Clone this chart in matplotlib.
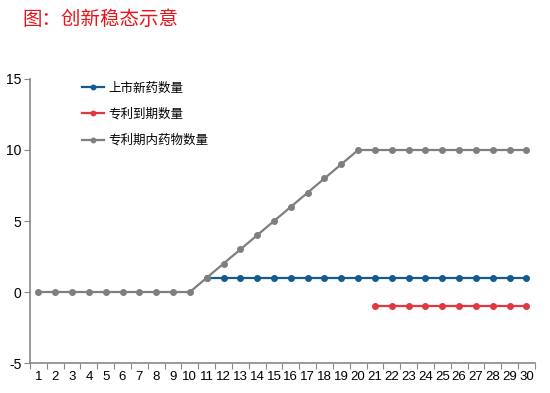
import matplotlib

matplotlib.use("Agg")

import matplotlib.pyplot as plt
import numpy as np

plt.rcParams["font.family"] = ["Noto Sans CJK SC", "DejaVu Sans"]

# datos
periodos = list(range(1, 31))
x_nuevos = list(range(11, 31))
nuevos = [1] * 20
x_expira = list(range(21, 31))
expira = [-1] * 10
en_patente = [0, 0, 0, 0, 0, 0, 0, 0, 0, 0,
              1, 2, 3, 4, 5, 6, 7, 8, 9, 10,
              10, 10, 10, 10, 10, 10, 10, 10, 10, 10]
y_ticks = [-5, 0, 5, 10, 15]

AZUL = "#135b8c"
ROJO = "#e0383e"
GRIS = "#7f7f7f"
EJE = "#888888"

fig = plt.figure(figsize=(5.5, 3.93), dpi=100)
ax = fig.add_axes([0.0545, 0.0763, 0.918, 0.7227])

ax.plot(x_nuevos, nuevos, color=AZUL, linewidth=1.6, marker="o",
        markersize=4, label="上市新药数量")
ax.plot(x_expira, expira, color=ROJO, linewidth=1.6, marker="o",
        markersize=4, label="专利到期数量")
ax.plot(periodos, en_patente, color=GRIS, linewidth=1.6, marker="o",
        markersize=4, label="专利期内药物数量")

ax.set_xlim(0.5, 30.5)
ax.set_ylim(-5, 15)
ax.set_yticks(y_ticks)
ax.set_yticklabels([str(v) for v in y_ticks], fontsize=10,
                   family="Liberation Sans")

# ticks entre categorias, etiquetas en el centro
ax.set_xticks(np.arange(0.5, 31, 1))
ax.set_xticklabels([])
ax.set_xticks(periodos, minor=True)
ax.set_xticklabels([str(p) for p in periodos], minor=True, fontsize=9.5,
                   family="Liberation Sans")
ax.tick_params(axis="x", which="major", length=4, color=EJE)
ax.tick_params(axis="x", which="minor", length=0, pad=6)
ax.tick_params(axis="y", length=4, color=EJE, pad=2)

for s in ("top", "right"):
    ax.spines[s].set_visible(False)
for s in ("bottom", "left"):
    ax.spines[s].set_color(EJE)
    ax.spines[s].set_linewidth(1.2)

leg = ax.legend(loc="upper left", bbox_to_anchor=(0.08, 1.03), frameon=False,
                fontsize=9, handlelength=1.8, handletextpad=0.3,
                labelspacing=1.05, markerscale=0.8)

fig.text(0.04, 0.95, "图：创新稳态示意", color="#e8141c", fontsize=14,
         va="center", ha="left")

fig.savefig("out.png", dpi=100)
